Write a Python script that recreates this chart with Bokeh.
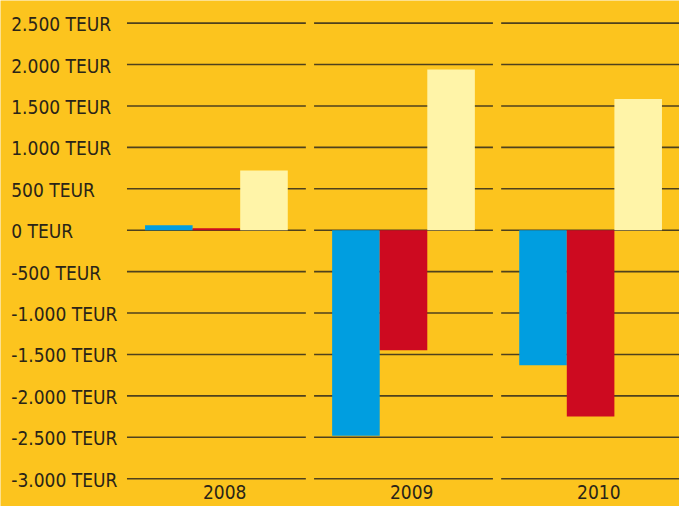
from bokeh.plotting import figure
from bokeh.models import Range1d, ColumnDataSource
from bokeh.transform import dodge
from bokeh.core.properties import value
from bokeh.embed import file_html
from bokeh.resources import INLINE

# ---- data ----
years = ["2008", "2009", "2010"]
series_blue = [60, -2480, -1630]
series_red = [25, -1450, -2250]
series_pale = [720, 1940, 1585]
tick_values = [2500, 2000, 1500, 1000, 500, 0, -500, -1000, -1500, -2000, -2500, -3000]
tick_labels = ["2.500 TEUR", "2.000 TEUR", "1.500 TEUR", "1.000 TEUR", "500 TEUR", "0 TEUR",
               "-500 TEUR", "-1.000 TEUR", "-1.500 TEUR", "-2.000 TEUR", "-2.500 TEUR", "-3.000 TEUR"]

# ---- style ----
BG = "#FCC41E"
BLUE = "#009EE0"
RED = "#CD0A20"
PALE = "#FFF4A8"
GRID = "#4f411c"
TEXT = "#2a2418"
FONT = "DejaVu Sans Condensed"

W, H = 679, 506
BAR_W = 0.2543
SEG_HALF = 0.478

p = figure(width=W, height=H, output_backend="svg", toolbar_location=None,
           x_axis_location=None, y_axis_location=None, min_border=0,
           x_range=Range1d(-221 / 191.5, (695 - 221) / 191.5),
           y_range=Range1d((237 - 522) / 0.08545, 237 / 0.08545))
p.background_fill_color = BG
p.border_fill_color = BG
p.outline_line_color = None
p.grid.visible = False

idx = list(range(len(years)))
src = ColumnDataSource(dict(idx=idx, year=years, blue=series_blue, red=series_red, pale=series_pale))

# segmented horizontal grid lines, one segment per year group
gx0, gx1, gy = [], [], []
for v in tick_values:
    for i in idx:
        gx0.append(i - SEG_HALF)
        gx1.append(i + SEG_HALF)
        gy.append(v)
p.segment(x0=gx0, x1=gx1, y0=gy, y1=gy, line_color=GRID, line_width=1.6)

# bars
p.vbar(x=dodge("idx", -BAR_W, range=p.x_range), top="blue", bottom=0, width=BAR_W,
       source=src, fill_color=BLUE, line_color=None)
p.vbar(x=dodge("idx", 0, range=p.x_range), top="red", bottom=0, width=BAR_W,
       source=src, fill_color=RED, line_color=None)
p.vbar(x=dodge("idx", BAR_W, range=p.x_range), top="pale", bottom=0, width=BAR_W,
       source=src, fill_color=PALE, line_color=None)

# y tick labels (left aligned)
lab_src = ColumnDataSource(dict(x=[(11 - 221) / 191.5] * len(tick_values), y=tick_values, t=tick_labels))
p.text(x="x", y="y", text="t", source=lab_src, text_align="left", text_baseline="middle",
       y_offset=1, text_font=value(FONT), text_font_size="19px", text_color=TEXT)

# year labels
p.text(x=dodge("idx", 0.044, range=p.x_range), y=(237 - 507) / 0.08545, text="year", source=src,
       text_align="center", text_baseline="middle", text_font=value(FONT),
       text_font_size="19px", text_color=TEXT)

open("out.html", "w").write(file_html(p, INLINE))
